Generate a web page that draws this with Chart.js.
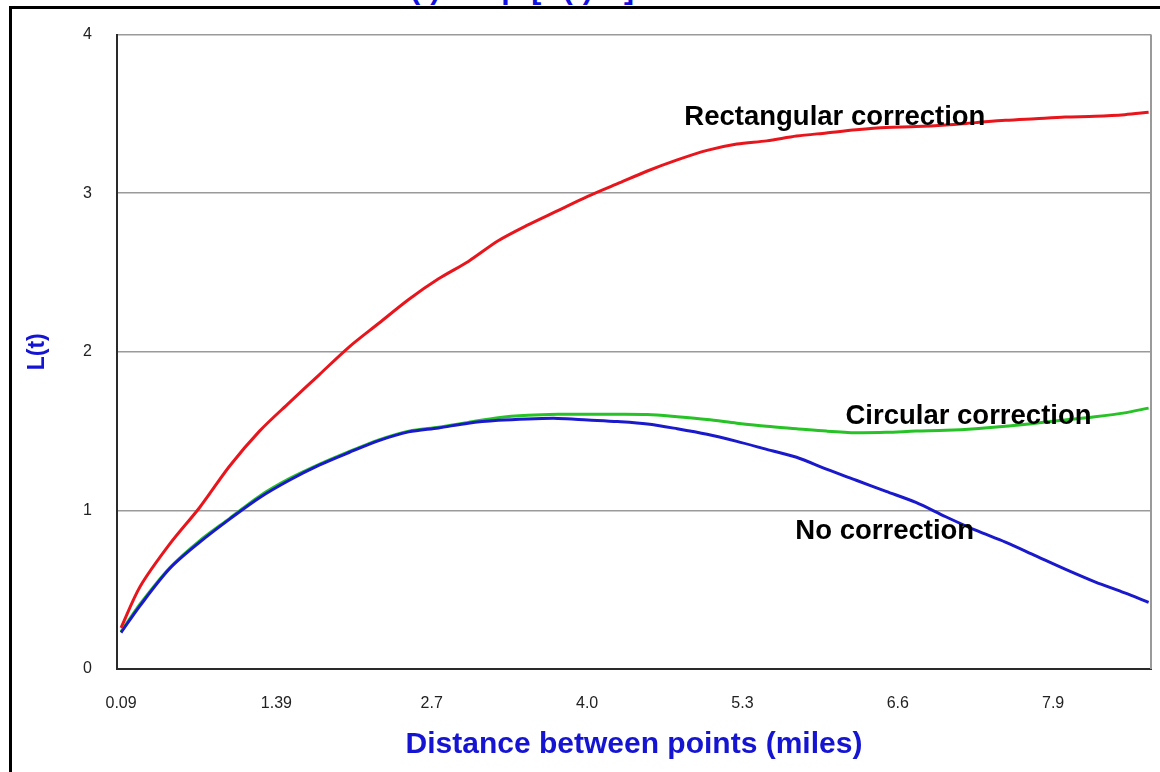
<!DOCTYPE html>
<html>
<head>
<meta charset="utf-8">
<script src="https://cdn.jsdelivr.net/npm/chart.js@4.4.1/dist/chart.umd.min.js"></script>
<style>
  html, body { margin: 0; padding: 0; background: #fff; overflow: hidden; }
  body { width: 1160px; height: 772px; position: relative; }
  #frame { position: absolute; left: 9px; top: 6px; width: 2000px; height: 2000px;
           border-top: 3px solid #000; border-left: 3px solid #000; }
  #title { position: absolute; left: 392px; top: -28px; white-space: nowrap;
           font: bold 30px Arial, "Liberation Sans", sans-serif; color: #1010e0; }
  #wrap { position: absolute; left: 0; top: 0; width: 1160px; height: 772px; }
</style>
</head>
<body>
<div id="frame"></div>
<div id="title">L(t) = sqrt[K(t)/π]</div>
<div id="wrap"><canvas id="c" width="1160" height="772"></canvas></div>
<script>
// Distance between points (miles)
const distance = [0.09, 0.25, 0.5, 0.75, 1.0, 1.25, 1.5, 1.75, 2.0, 2.25, 2.5, 2.75, 3.0, 3.25, 3.5, 3.75,
  4.0, 4.25, 4.5, 4.75, 5.0, 5.25, 5.5, 5.75, 6.0, 6.25, 6.5, 6.75, 7.0, 7.25, 7.5, 7.75, 8.0, 8.25, 8.5, 8.7];

const rectangular = [0.26, 0.52, 0.79, 1.02, 1.28, 1.50, 1.68, 1.855, 2.03, 2.18, 2.33, 2.46, 2.57, 2.70, 2.80, 2.89,
  2.98, 3.06, 3.14, 3.21, 3.27, 3.31, 3.33, 3.36, 3.38, 3.40, 3.415, 3.42, 3.43, 3.445, 3.46, 3.47, 3.48, 3.485, 3.495, 3.51];

const circular = [0.235, 0.41, 0.64, 0.81, 0.95, 1.09, 1.20, 1.29, 1.37, 1.445, 1.50, 1.525, 1.555, 1.585, 1.60, 1.606,
  1.606, 1.606, 1.604, 1.59, 1.573, 1.55, 1.53, 1.515, 1.50, 1.49, 1.492, 1.50, 1.505, 1.515, 1.53, 1.55, 1.57, 1.59, 1.615, 1.645];

const noCorrection = [0.23, 0.40, 0.635, 0.80, 0.945, 1.08, 1.19, 1.285, 1.365, 1.44, 1.495, 1.52, 1.55, 1.568, 1.577, 1.58,
  1.57, 1.56, 1.545, 1.515, 1.48, 1.435, 1.385, 1.335, 1.26, 1.19, 1.12, 1.05, 0.96, 0.875, 0.80, 0.715, 0.63, 0.55, 0.48, 0.42];

const xTickValues = [0.09, 1.392, 2.693, 3.995, 5.297, 6.598, 7.9];
const xTickLabels = ['0.09', '1.39', '2.7', '4.0', '5.3', '6.6', '7.9'];
const yTickValues = [0, 1, 2, 3, 4];

const labelTexts = ['Rectangular correction', 'Circular correction', 'No correction'];
const labelX = [4.81, 6.16, 5.74];
const labelY = [3.48, 1.594, 0.87];

const toPts = (ys) => ys.map((y, i) => ({ x: distance[i], y }));

const frameAndLabels = {
  id: 'frameAndLabels',
  afterDatasetsDraw(chart) {
    const { ctx, chartArea, scales } = chart;
    ctx.save();
    ctx.strokeStyle = '#9a9a9a';
    ctx.lineWidth = 2;
    ctx.beginPath();
    ctx.moveTo(chartArea.right, chartArea.top);
    ctx.lineTo(chartArea.right, chartArea.bottom);
    ctx.stroke();
    ctx.fillStyle = '#000';
    ctx.font = 'bold 27.5px Arial, "Liberation Sans", sans-serif';
    ctx.textAlign = 'left';
    ctx.textBaseline = 'middle';
    labelTexts.forEach((t, i) => {
      ctx.fillText(t, scales.x.getPixelForValue(labelX[i]), scales.y.getPixelForValue(labelY[i]));
    });
    ctx.restore();
  }
};

new Chart(document.getElementById('c'), {
  type: 'line',
  data: {
    datasets: [
      { label: 'Rectangular correction', data: toPts(rectangular), borderColor: '#e8161c', borderWidth: 3, pointRadius: 0, tension: 0.3 },
      { label: 'No correction', data: toPts(noCorrection), borderColor: '#1a1acc', borderWidth: 3, pointRadius: 0, tension: 0.3 },
      { label: 'Circular correction', data: toPts(circular), borderColor: '#26c226', borderWidth: 3, pointRadius: 0, tension: 0.3 }
    ]
  },
  options: {
    responsive: false,
    animation: false,
    layout: { padding: { left: 0, top: 34, right: 9, bottom: 0 } },
    plugins: { legend: { display: false }, tooltip: { enabled: false }, title: { display: false } },
    scales: {
      x: {
        type: 'linear',
        min: 0.056, max: 8.72,
        afterFit(s) { s.height = 103; },
        afterBuildTicks(s) { s.ticks = xTickValues.map(v => ({ value: v })); },
        ticks: {
          padding: 25, maxRotation: 0, autoSkip: false,
          color: '#222', font: { family: 'Arial, "Liberation Sans", sans-serif', size: 16 },
          callback: (v, i) => xTickLabels[i]
        },
        grid: { display: false, drawTicks: false },
        border: { display: true, color: '#2a2a2a', width: 2 },
        title: {
          display: true, text: 'Distance between points (miles)', color: '#1414d2',
          font: { family: 'Arial, "Liberation Sans", sans-serif', size: 30, weight: 'bold' },
          padding: { top: 0, bottom: 9 }
        }
      },
      y: {
        min: 0, max: 4,
        afterFit(s) { s.width = 117; },
        afterBuildTicks(s) { s.ticks = yTickValues.map(v => ({ value: v })); },
        ticks: {
          padding: 25, color: '#222',
          font: { family: 'Arial, "Liberation Sans", sans-serif', size: 16 }
        },
        grid: { color: '#9a9a9a', lineWidth: 1.5, drawTicks: false },
        border: { display: true, color: '#2a2a2a', width: 2 },
        title: {
          display: true, text: 'L(t)', color: '#1414d2',
          font: { family: 'Arial, "Liberation Sans", sans-serif', size: 23, weight: 'bold' },
          padding: { top: 24, bottom: 0 }
        }
      }
    }
  },
  plugins: [frameAndLabels]
});
</script>
</body>
</html>
